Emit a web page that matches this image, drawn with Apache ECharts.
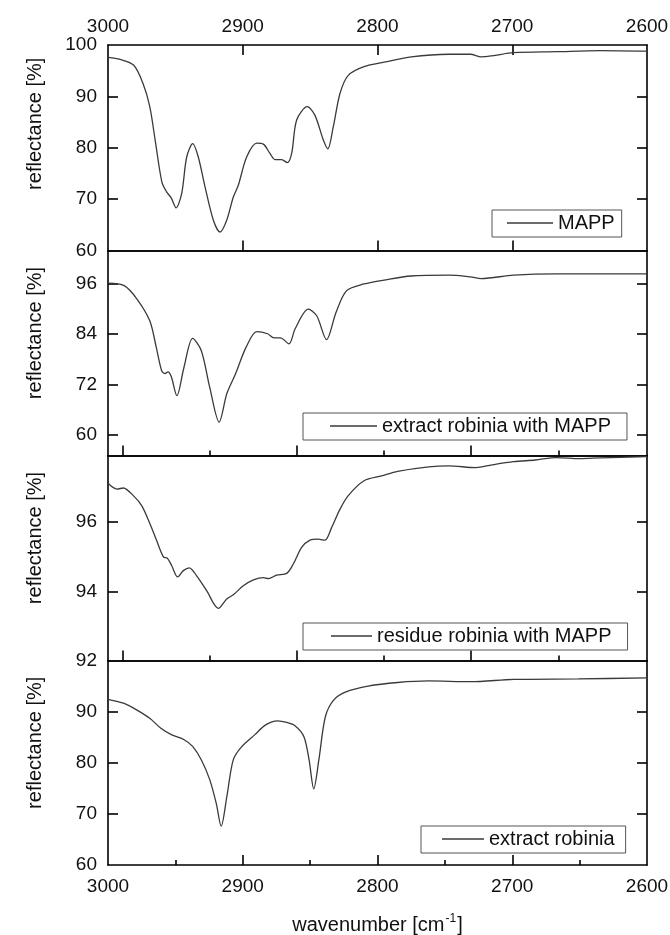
<!DOCTYPE html>
<html><head><meta charset="utf-8">
<script src="https://cdn.jsdelivr.net/npm/echarts@6/dist/echarts.min.js"></script>
<style>html,body{margin:0;padding:0;background:#fff}#c{width:670px;height:935px}</style>
</head><body><div id="c"></div>
<script>
// ---------- data ----------
const xLabels = [3000, 2900, 2800, 2700, 2600];
const xMajorTicks = [2900, 2800, 2700];
const xMinorTicks = [2950, 2850, 2750, 2650];
const xOddMajorTicks = [2989.4, 2860.0, 2730.8];
const xOddMinorTicks = [2924.8, 2795.2, 2665.8];

const legendNames = ['MAPP', 'extract robinia with MAPP', 'residue robinia with MAPP', 'extract robinia'];

const yLabels1 = [60, 70, 80, 90, 100];
const yLabels2 = [60, 72, 84, 96];
const yLabels3 = [92, 94, 96];
const yLabels4 = [60, 70, 80, 90];
const yRange1 = [60, 100];
const yRange2 = [55, 104];
const yRange3 = [92, 97.93];
const yRange4 = [60, 100];

const mappWave = [3000, 2991, 2981, 2974, 2969, 2965, 2960, 2956.5, 2953, 2949.5, 2945.3, 2941.6, 2937.1, 2933, 2928, 2921.8, 2916.9, 2911.9, 2907, 2903.3, 2897.1, 2889.6, 2884.7, 2879.8, 2876.1, 2871.1, 2867, 2863.7, 2860, 2852.1, 2846.4, 2840.2, 2836.9, 2832.8, 2827.8, 2821.7, 2810, 2794, 2775, 2747, 2731, 2723, 2715, 2699, 2667, 2635, 2600];
const mappRefl = [97.6, 97.2, 96.1, 92.5, 88.0, 81.5, 73.3, 71.4, 70.2, 68.3, 71.1, 78.2, 80.8, 78.2, 72.4, 65.9, 63.6, 65.9, 70.4, 72.7, 78.2, 80.9, 80.7, 78.9, 77.7, 77.7, 77.1, 78.9, 85.4, 88.0, 86.3, 81.5, 79.8, 84.1, 90.6, 94.1, 95.8, 96.7, 97.7, 98.2, 98.2, 97.7, 97.9, 98.5, 98.7, 98.9, 98.8];

const extMappWave = [3000, 2988, 2978.5, 2969, 2964.2, 2960.1, 2957.5, 2955.5, 2953, 2948.9, 2943.6, 2937.2, 2930.8, 2924.5, 2917.5, 2911.8, 2905.4, 2897.5, 2889.6, 2881.6, 2876.8, 2872.1, 2865.7, 2861.1, 2851.4, 2845.1, 2837.8, 2830.8, 2822.9, 2810, 2794, 2775, 2747, 2731, 2723, 2699, 2667, 2600];
const extMappRefl = [96.2, 95.6, 92.4, 87.2, 80.9, 75.2, 74.6, 75.0, 73.8, 69.3, 76.1, 83.0, 80.1, 71.3, 63.0, 69.8, 74.5, 80.9, 84.6, 84.1, 83.1, 83.1, 81.7, 85.3, 90.0, 88.4, 82.7, 89.2, 94.4, 96.0, 97.0, 97.9, 98.1, 97.7, 97.3, 98.1, 98.4, 98.4];

const resMappWave = [3000, 2996, 2993.5, 2988.6, 2981.2, 2975, 2968.8, 2963.9, 2958.9, 2956, 2952.7, 2948.3, 2944.1, 2939.7, 2934.2, 2926.8, 2918.1, 2911.9, 2907, 2899.6, 2892.1, 2884.7, 2881, 2874.8, 2867.4, 2862.5, 2856.3, 2850.1, 2844, 2839, 2834, 2827.8, 2821.7, 2810, 2797, 2785, 2762, 2747, 2727, 2715, 2699, 2683, 2667, 2650, 2635, 2600];
const resMappRefl = [97.13, 97.0, 96.96, 96.99, 96.77, 96.48, 95.95, 95.47, 95.0, 94.96, 94.74, 94.42, 94.6, 94.68, 94.45, 94.02, 93.51, 93.78, 93.9, 94.16, 94.33, 94.40, 94.37, 94.47, 94.52, 94.79, 95.27, 95.48, 95.51, 95.48, 95.85, 96.38, 96.77, 97.2, 97.34, 97.47, 97.6, 97.63, 97.58, 97.66, 97.75, 97.8, 97.87, 97.84, 97.86, 97.9];

const extWave = [3000, 2988, 2978.5, 2969, 2961, 2953, 2943.5, 2937.2, 2930.8, 2924.5, 2919.7, 2916, 2911.8, 2907, 2900.6, 2891, 2883, 2874.3, 2867.3, 2861, 2854.6, 2850.8, 2847.3, 2843.5, 2838.7, 2832.4, 2823, 2807, 2785, 2762, 2731, 2699, 2651, 2600];
const extRefl = [92.4, 91.6, 90.3, 88.7, 86.8, 85.5, 84.5, 83.2, 80.6, 76.7, 72.1, 67.6, 73.4, 80.6, 83.2, 85.5, 87.4, 88.2, 87.9, 87.2, 85.1, 80.6, 74.9, 80.6, 89.0, 92.3, 93.9, 95.0, 95.7, 96.0, 95.85, 96.3, 96.4, 96.6];

// ---------- layout ----------
const FONT = 'Liberation Sans, Arial, sans-serif';
const gridTops = [45, 250.5, 455.5, 660.5];
const gridHeights = [205.5, 205, 205, 204.5];
const titleShift = [48, 40, 40, 40];
const LINE_COLOR = '#3a3a3a';

const panels = [
  {wave: mappWave, refl: mappRefl, range: yRange1, labels: yLabels1, ticks: [70, 80, 90],
   legend: {left: 492, top: 210, pad: [3, 7, 4, 15], w: 46}},
  {wave: extMappWave, refl: extMappRefl, range: yRange2, labels: yLabels2, ticks: yLabels2,
   legend: {left: 303, top: 413, pad: [3, 16, 4, 27], w: 47}},
  {wave: resMappWave, refl: resMappRefl, range: yRange3, labels: yLabels3, ticks: [94, 96],
   legend: {left: 303, top: 623, pad: [3, 16, 4, 28], w: 41}},
  {wave: extWave, refl: extRefl, range: yRange4, labels: yLabels4, ticks: [70, 80, 90],
   legend: {left: 421, top: 826, pad: [3, 11, 4, 21], w: 42}}
];

const axisLineStyle = {color: '#000', width: 1.6};
const labelStyle = {color: '#111', fontSize: 19, fontFamily: FONT};

function xAxis(grid, pos, opt) {
  return {
    type: 'value', gridIndex: grid, position: pos, min: 2600, max: 3000, inverse: true,
    axisLine: {show: opt.line !== false, onZero: false, lineStyle: axisLineStyle},
    axisTick: {show: !!(opt.ticks && opt.ticks.length), inside: true, length: opt.len || 10,
      customValues: opt.ticks || [], lineStyle: axisLineStyle},
    axisLabel: opt.labels ? {show: true, customValues: opt.labels, margin: pos === 'top' ? 9 : 12, ...labelStyle,
      formatter: v => String(v), showMinLabel: true, showMaxLabel: true} : {show: false},
    splitLine: {show: false},
    ...(opt.extra || {})
  };
}
function yAxis(grid, pos, p, withLabels) {
  return {
    type: 'value', gridIndex: grid, position: pos, min: p.range[0], max: p.range[1],
    axisLine: {show: true, onZero: false, lineStyle: axisLineStyle},
    axisTick: {show: true, inside: true, length: 10, customValues: p.ticks, lineStyle: axisLineStyle},
    axisLabel: withLabels ? {show: true, customValues: p.labels, margin: 11, ...labelStyle,
      formatter: v => String(v)} : {show: false},
    splitLine: {show: false},
    name: withLabels ? 'reflectance [%]' : '',
    nameLocation: 'middle', nameGap: 63,
    nameTextStyle: {fontSize: 20, fontFamily: FONT, color: '#111', padding: [0, 0, 0, titleShift[grid] || 0]}
  };
}

const grids = [], xAxes = [], yAxes = [], series = [], legends = [];
panels.forEach((p, i) => {
  grids.push({left: 108, right: 23, top: gridTops[i], height: gridHeights[i], show: false,
    containLabel: false, outerBoundsMode: 'none'});
  let bottom;
  if (i === 0) {
    bottom = xAxes.length;
    xAxes.push(xAxis(i, 'bottom', {ticks: xMajorTicks}));
    xAxes.push(xAxis(i, 'top', {ticks: xMajorTicks, labels: xLabels}));
  } else if (i === 1 || i === 2) {
    bottom = xAxes.length;
    xAxes.push(xAxis(i, 'bottom', {ticks: xOddMajorTicks, len: 10}));
    xAxes.push(xAxis(i, 'bottom', {ticks: xOddMinorTicks, len: 5, line: false}));
    xAxes.push(xAxis(i, 'top', {}));
  } else {
    bottom = xAxes.length;
    xAxes.push(xAxis(i, 'bottom', {ticks: xMajorTicks, labels: xLabels, extra: {
      name: '{a|wavenumber [cm}{s|-1}{a|]}', nameLocation: 'middle', nameGap: 48,
      nameTextStyle: {rich: {
        a: {fontSize: 20, fontFamily: FONT, color: '#111'},
        s: {fontSize: 12, fontFamily: FONT, color: '#111', padding: [0, 1, 12, 1]}
      }}
    }}));
    xAxes.push(xAxis(i, 'bottom', {ticks: xMinorTicks, len: 5, line: false}));
    xAxes.push(xAxis(i, 'top', {}));
  }
  const left = yAxes.length;
  yAxes.push(yAxis(i, 'left', p, true));
  yAxes.push(yAxis(i, 'right', p, false));
  series.push({
    name: legendNames[i], type: 'line', xAxisIndex: bottom, yAxisIndex: left,
    data: p.wave.map((w, k) => [w, p.refl[k]]),
    symbol: 'none', showSymbol: false, smooth: 0.3, silent: true,
    color: LINE_COLOR,
    lineStyle: {color: LINE_COLOR, width: 1.3}
  });
  legends.push({
    data: [{name: legendNames[i], icon: 'rect'}], left: p.legend.left, top: p.legend.top, padding: p.legend.pad,
    itemWidth: p.legend.w, itemHeight: 1.3, selectedMode: false,
    itemStyle: {color: LINE_COLOR, borderWidth: 0},
    borderColor: '#555', borderWidth: 1, backgroundColor: '#fff',
    textStyle: {fontSize: 20, fontFamily: FONT, color: '#111', lineHeight: 20}
  });
});

const chart = echarts.init(document.getElementById('c'), null, {renderer: 'canvas'});
chart.setOption({
  animation: false,
  backgroundColor: '#fff',
  grid: grids, xAxis: xAxes, yAxis: yAxes, series: series, legend: legends
});
</script></body></html>
